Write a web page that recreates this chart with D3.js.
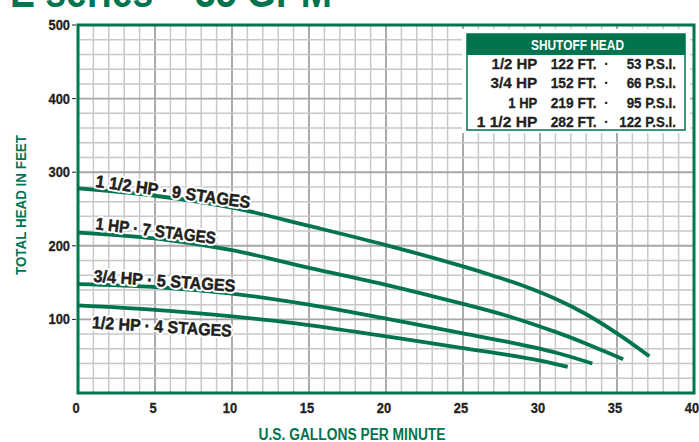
<!DOCTYPE html>
<html><head><meta charset="utf-8">
<script src="https://cdn.jsdelivr.net/npm/d3@7/dist/d3.min.js"></script>
<style>
html,body{margin:0;padding:0;background:#fff;overflow:hidden;}
svg{display:block;}
text{font-family:"Liberation Sans",Arial,sans-serif;font-weight:bold;}
</style></head>
<body>
<svg id="chart" width="699" height="442"></svg>
<script>
// ---------- data ----------
const gpmTicks = [0,5,10,15,20,25,30,35,40];
const headTicks = [100,200,300,400,500];

const gpm15  = [0,5,10,15,20,25,27,29,31,33,35,37.1];
const head15 = [278,268,252,227,201,172,159,145,128,107,81,50];
const gpm1   = [0,5,10,15,20,25,28,31,33,35.4];
const head1  = [218,210,194,170,147,121,104,83,67,46];
const gpm34  = [0,5,10,15,20,25,28,31,33.4];
const head34 = [148,144,135,120,101,81,69,55,40];
const gpm12  = [0,5,10,14,20,25,28,30,31.8];
const head12 = [119,113,104,95,77,61,51.5,44,35.5];

const curveLabels = ["1 1/2 HP · 9 STAGES","1 HP · 7 STAGES","3/4 HP · 5 STAGES","1/2 HP · 4 STAGES"];

const hpLabels  = ["1/2 HP","3/4 HP","1 HP","1 1/2 HP"];
const shutoffFt = [122,152,219,282];
const shutoffPsi= [53,66,95,122];

const titleText = "E series – 35 GPM";
const xTitle = "U.S. GALLONS PER MINUTE";
const yTitle = "TOTAL HEAD IN FEET";
const tableTitle = "SHUTOFF HEAD";

// ---------- setup ----------
const GREEN = "#00734f", DARK = "#231f20";
const svg = d3.select("#chart");
const x = d3.scaleLinear().domain([0,40]).range([78,694]);
const y = d3.scaleLinear().domain([0,500]).range([393,25]);

function fit(sel, w){
  sel.each(function(d,i){
    const v = (typeof w === "function") ? w(d,i) : w;
    this.setAttribute("textLength", v);
    this.setAttribute("lengthAdjust","spacingAndGlyphs");
  });
}
function condense(sel, k){
  sel.each(function(){
    const n = this.getComputedTextLength();
    this.setAttribute("textLength", n*k);
    this.setAttribute("lengthAdjust","spacingAndGlyphs");
  });
}

// title (cut off at the top edge, as in the source)
svg.append("text").attr("x",10).attr("y",7).attr("font-size",44).attr("fill",GREEN)
  .text(titleText).call(fit,322);

// grid
const g = svg.append("g");
const minorX = d3.range(0,41,1), minorY = d3.range(0,501,20);
g.selectAll("line.vx").data(minorX).join("line")
  .attr("x1",d=>x(d)).attr("x2",d=>x(d)).attr("y1",y(500)).attr("y2",y(0))
  .attr("stroke",d=>d%5===0?"#a6a6ab":"#c8c8cc").attr("stroke-width",d=>d%5===0?1.9:1.5);
g.selectAll("line.hy").data(minorY).join("line")
  .attr("y1",d=>y(d)).attr("y2",d=>y(d)).attr("x1",x(0)).attr("x2",x(40))
  .attr("stroke",d=>d%100===0?"#a6a6ab":"#c8c8cc").attr("stroke-width",d=>d%100===0?1.9:1.5);

// curves
const series = [[gpm15,head15],[gpm1,head1],[gpm34,head34],[gpm12,head12]];
const line = d3.line().x(d=>x(d[0])).y(d=>y(d[1])).curve(d3.curveCatmullRom.alpha(0.5));
svg.append("g").selectAll("path").data(series).join("path")
  .attr("d",s=>line(s[0].map((v,i)=>[v,s[1][i]])))
  .attr("fill","none").attr("stroke",GREEN).attr("stroke-width",3.8);

// curve labels
const labelPos = [
  {x:95,y:186.7,a:7.93,w:156},
  {x:95,y:229.3,a:6.98,w:121},
  {x:93.3,y:281.7,a:4.04,w:142},
  {x:91.7,y:328.3,a:3.43,w:140}
];
function curveText(layer, halo){
  layer.selectAll("text").data(curveLabels).join("text")
    .attr("x",(d,i)=>labelPos[i].x).attr("y",(d,i)=>labelPos[i].y)
    .attr("transform",(d,i)=>`rotate(${labelPos[i].a},${labelPos[i].x},${labelPos[i].y})`)
    .attr("font-size",17).attr("fill",halo?"#fff":DARK)
    .attr("stroke",halo?"#fff":DARK).attr("stroke-width",halo?4.5:0.5)
    .attr("stroke-linejoin","round")
    .text(d=>d)
    .call(fit,(d,i)=>labelPos[i].w);
}
curveText(svg.append("g"), true);
curveText(svg.append("g"), false);

// border
svg.append("rect").attr("x",x(0)).attr("y",y(500)).attr("width",x(40)-x(0)).attr("height",y(0)-y(500))
  .attr("fill","none").attr("stroke",GREEN).attr("stroke-width",3);

// y axis
svg.append("g").selectAll("line").data(headTicks).join("line")
  .attr("x1",72).attr("x2",76).attr("y1",d=>y(d)).attr("y2",d=>y(d))
  .attr("stroke",DARK).attr("stroke-width",1);
svg.append("g").selectAll("text").data(headTicks).join("text")
  .attr("x",70).attr("y",d=>y(d)+5).attr("text-anchor","end")
  .attr("font-size",14).attr("fill",DARK).attr("stroke",DARK).attr("stroke-width",0.3).text(d=>d)
  .call(condense,0.92);
// x axis
svg.append("g").selectAll("text").data(gpmTicks).join("text")
  .attr("x",d=>x(d)-2).attr("y",413).attr("text-anchor","middle")
  .attr("font-size",14).attr("fill",DARK).attr("stroke",DARK).attr("stroke-width",0.3).text(d=>d)
  .call(condense,0.92);

svg.append("text").attr("x",352).attr("y",440).attr("text-anchor","middle")
  .attr("font-size",16).attr("fill",GREEN).text(xTitle).call(fit,187);
svg.append("text").attr("transform","translate(26,205) rotate(-90)").attr("text-anchor","middle")
  .attr("font-size",15).attr("fill",GREEN).text(yTitle).call(fit,140);

// shutoff table
const tb = svg.append("g");
tb.append("rect").attr("x",462).attr("y",29).attr("width",228).attr("height",104).attr("fill","#fff");
tb.append("rect").attr("x",467).attr("y",34).attr("width",218).attr("height",96)
  .attr("fill","#fff").attr("stroke",GREEN).attr("stroke-width",1.5);
tb.append("rect").attr("x",467).attr("y",34).attr("width",218).attr("height",21).attr("fill",GREEN);
tb.append("text").attr("x",577.5).attr("y",50).attr("text-anchor","middle").attr("font-size",15)
  .attr("fill","#fff").text(tableTitle).call(fit,93);
const rowY = [69,88.3,108,126.7];
const hpW = [45.7,46.7,29,60.6], psiW = [49.3,49.3,49.3,56.7];
const tstroke = sel => sel.attr("stroke",DARK).attr("stroke-width",0.3);
tb.selectAll("text.hp").data(hpLabels).join("text").attr("class","hp")
  .attr("x",537.3).attr("y",(d,i)=>rowY[i]).attr("text-anchor","end")
  .attr("font-size",15).attr("fill",DARK).call(tstroke).text(d=>d).call(fit,(d,i)=>hpW[i]);
tb.selectAll("text.ft").data(shutoffFt).join("text").attr("class","ft")
  .attr("x",596.7).attr("y",(d,i)=>rowY[i]).attr("text-anchor","end")
  .attr("font-size",15).attr("fill",DARK).call(tstroke).text(d=>d+" FT.").call(fit,46);
tb.selectAll("text.dot").data(shutoffFt).join("text").attr("class","dot")
  .attr("x",606.5).attr("y",(d,i)=>rowY[i]).attr("text-anchor","middle")
  .attr("font-size",15).attr("fill",DARK).text("·");
tb.selectAll("text.psi").data(shutoffPsi).join("text").attr("class","psi")
  .attr("x",676).attr("y",(d,i)=>rowY[i]).attr("text-anchor","end")
  .attr("font-size",15).attr("fill",DARK).call(tstroke).text(d=>d+" P.S.I.").call(fit,(d,i)=>psiW[i]);
</script>
</body></html>
